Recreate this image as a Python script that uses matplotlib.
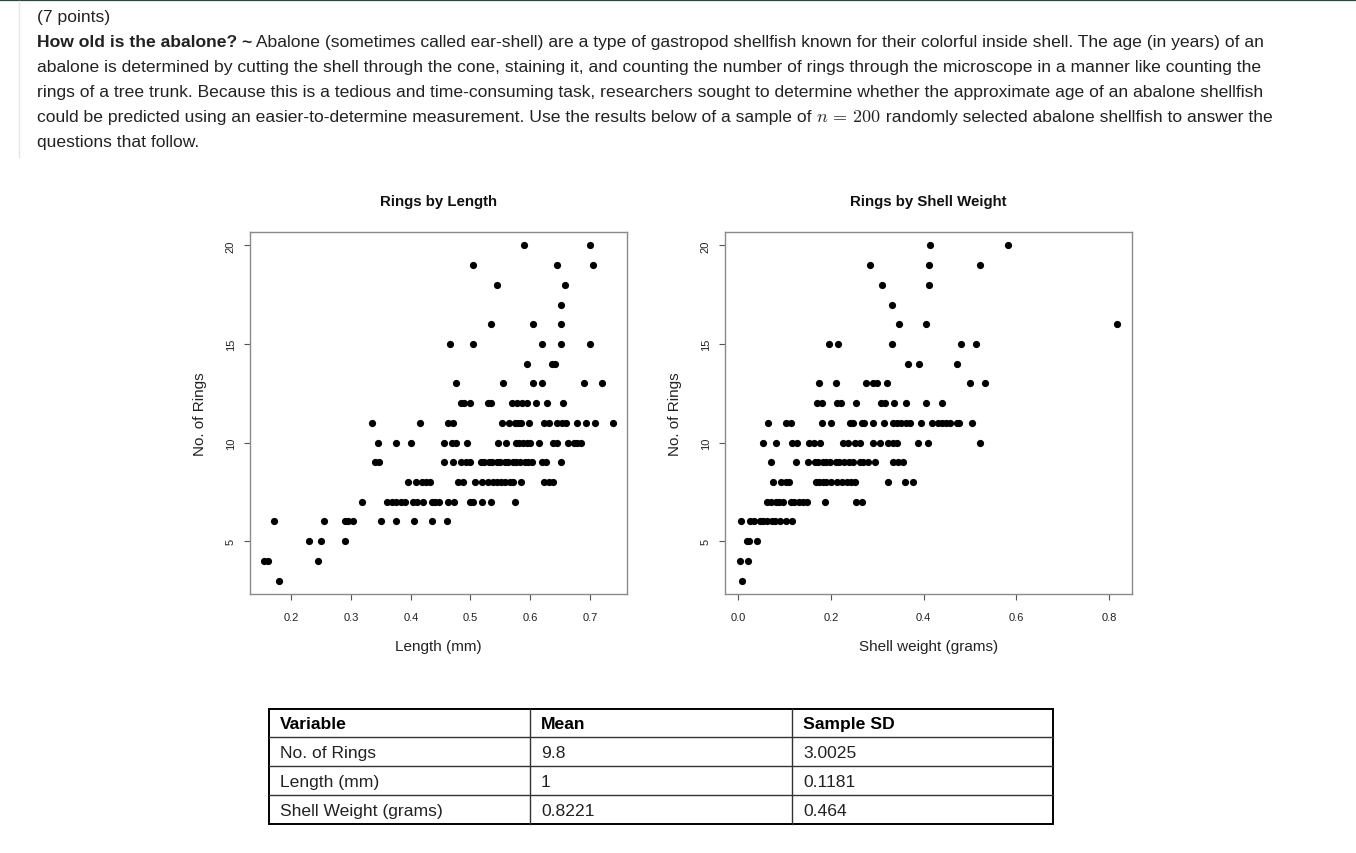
import matplotlib
matplotlib.use("Agg")
import matplotlib.pyplot as plt
from matplotlib.patches import Rectangle

plt.rcParams['font.family'] = ['Liberation Sans', 'DejaVu Sans']
plt.rcParams['mathtext.fontset'] = 'cm'

# ---------------- data ----------------
length_mm = [
    0.590, 0.700,
    0.504, 0.645, 0.705,
    0.545, 0.659,
    0.651,
    0.535, 0.605, 0.651,
    0.465, 0.504, 0.620, 0.651, 0.700,
    0.595, 0.636, 0.641,
    0.475, 0.555, 0.605, 0.620, 0.690, 0.720,
    0.484, 0.490, 0.500, 0.529, 0.535, 0.570, 0.578, 0.586, 0.595, 0.610, 0.629, 0.655,
    0.335, 0.415, 0.463, 0.471, 0.553, 0.564, 0.574, 0.579, 0.585, 0.599, 0.624, 0.631,
    0.645, 0.653, 0.660, 0.679, 0.694, 0.709, 0.739,
    0.345, 0.375, 0.400, 0.455, 0.469, 0.475, 0.495, 0.547, 0.560, 0.577, 0.582, 0.588,
    0.595, 0.600, 0.615, 0.638, 0.645, 0.664, 0.673, 0.679, 0.686,
    0.340, 0.346, 0.455, 0.471, 0.485, 0.493, 0.500, 0.517, 0.523, 0.531, 0.536, 0.544,
    0.550, 0.558, 0.563, 0.571, 0.577, 0.583, 0.591, 0.596, 0.604, 0.620, 0.627, 0.651,
    0.395, 0.409, 0.419, 0.426, 0.433, 0.479, 0.487, 0.508, 0.519, 0.529, 0.538, 0.545,
    0.551, 0.558, 0.567, 0.572, 0.585, 0.624, 0.631, 0.638,
    0.319, 0.360, 0.369, 0.375, 0.383, 0.390, 0.404, 0.411, 0.421, 0.435, 0.441, 0.447,
    0.463, 0.473, 0.499, 0.505, 0.519, 0.535, 0.575,
    0.170, 0.255, 0.289, 0.295, 0.304, 0.350, 0.375, 0.405, 0.435, 0.460,
    0.230, 0.250, 0.289,
    0.154, 0.161, 0.245,
    0.180,
]
rings_vs_length = [
    20, 20,
    19, 19, 19,
    18, 18,
    17,
    16, 16, 16,
    15, 15, 15, 15, 15,
    14, 14, 14,
    13, 13, 13, 13, 13, 13,
    12, 12, 12, 12, 12, 12, 12, 12, 12, 12, 12, 12,
    11, 11, 11, 11, 11, 11, 11, 11, 11, 11, 11, 11,
    11, 11, 11, 11, 11, 11, 11,
    10, 10, 10, 10, 10, 10, 10, 10, 10, 10, 10, 10,
    10, 10, 10, 10, 10, 10, 10, 10, 10,
    9, 9, 9, 9, 9, 9, 9, 9, 9, 9, 9, 9,
    9, 9, 9, 9, 9, 9, 9, 9, 9, 9, 9, 9,
    8, 8, 8, 8, 8, 8, 8, 8, 8, 8, 8, 8,
    8, 8, 8, 8, 8, 8, 8, 8,
    7, 7, 7, 7, 7, 7, 7, 7, 7, 7, 7, 7,
    7, 7, 7, 7, 7, 7, 7,
    6, 6, 6, 6, 6, 6, 6, 6, 6, 6,
    5, 5, 5,
    4, 4, 4,
    3,
]

shell_weight = [
    0.413, 0.581,
    0.285, 0.411, 0.521,
    0.310, 0.411,
    0.331,
    0.346, 0.405, 0.817,
    0.195, 0.215, 0.331, 0.480, 0.514,
    0.366, 0.391, 0.471,
    0.175, 0.210, 0.275, 0.291, 0.300, 0.320, 0.499, 0.532,
    0.169, 0.180, 0.214, 0.221, 0.255, 0.309, 0.316, 0.336, 0.361, 0.405, 0.440,
    0.065, 0.104, 0.113, 0.180, 0.200, 0.241, 0.248, 0.266, 0.271, 0.291, 0.315, 0.334,
    0.343, 0.352, 0.363, 0.370, 0.395, 0.417, 0.431, 0.440, 0.449, 0.456, 0.471, 0.476, 0.505,
    0.053, 0.081, 0.115, 0.126, 0.153, 0.164, 0.176, 0.225, 0.237, 0.251, 0.262, 0.291,
    0.305, 0.323, 0.333, 0.343, 0.387, 0.409, 0.521,
    0.070, 0.125, 0.150, 0.165, 0.172, 0.183, 0.190, 0.199, 0.211, 0.218, 0.229, 0.240,
    0.247, 0.262, 0.270, 0.281, 0.295, 0.334, 0.345, 0.356,
    0.074, 0.092, 0.102, 0.109, 0.167, 0.175, 0.183, 0.190, 0.200, 0.214, 0.223, 0.234,
    0.244, 0.251, 0.323, 0.359, 0.376,
    0.063, 0.071, 0.081, 0.089, 0.096, 0.113, 0.121, 0.132, 0.140, 0.148, 0.187, 0.255, 0.266,
    0.007, 0.026, 0.035, 0.046, 0.053, 0.062, 0.073, 0.080, 0.091, 0.104, 0.115,
    0.019, 0.024, 0.040,
    0.004, 0.022,
    0.009,
]
rings_vs_weight = [
    20, 20,
    19, 19, 19,
    18, 18,
    17,
    16, 16, 16,
    15, 15, 15, 15, 15,
    14, 14, 14,
    13, 13, 13, 13, 13, 13, 13, 13,
    12, 12, 12, 12, 12, 12, 12, 12, 12, 12, 12,
    11, 11, 11, 11, 11, 11, 11, 11, 11, 11, 11, 11,
    11, 11, 11, 11, 11, 11, 11, 11, 11, 11, 11, 11, 11,
    10, 10, 10, 10, 10, 10, 10, 10, 10, 10, 10, 10,
    10, 10, 10, 10, 10, 10, 10,
    9, 9, 9, 9, 9, 9, 9, 9, 9, 9, 9, 9,
    9, 9, 9, 9, 9, 9, 9, 9,
    8, 8, 8, 8, 8, 8, 8, 8, 8, 8, 8, 8,
    8, 8, 8, 8, 8,
    7, 7, 7, 7, 7, 7, 7, 7, 7, 7, 7, 7, 7,
    6, 6, 6, 6, 6, 6, 6, 6, 6, 6, 6,
    5, 5, 5,
    4, 4,
    3,
]

ring_ticks = [5, 10, 15, 20]
length_ticks = [0.2, 0.3, 0.4, 0.5, 0.6, 0.7]
weight_ticks = [0.0, 0.2, 0.4, 0.6, 0.8]

table_header = ["Variable", "Mean", "Sample SD"]
table_variables = ["No. of Rings", "Length (mm)", "Shell Weight (grams)"]
table_means = ["9.8", "1", "0.8221"]
table_sds = ["3.0025", "0.1181", "0.464"]

# ---------------- figure ----------------
W, H = 1356, 854
fig = plt.figure(figsize=(W / 100, H / 100), dpi=100)
fig.patch.set_facecolor('white')

bg = fig.add_axes([0, 0, 1, 1], zorder=0)
bg.set_xlim(0, W)
bg.set_ylim(H, 0)
bg.axis('off')

TXT = '#222222'
FS = 12.6

# top border and faint left rule
bg.plot([0, W], [0.8, 0.8], color='#24493d', lw=1.6, solid_capstyle='butt')
bg.plot([19, 19], [2, 158], color='#e6e6e6', lw=1)

renderer = fig.canvas.get_renderer()


def put_runs(x, y, runs):
    """Draw consecutive text runs on a baseline starting at pixel x."""
    for s, kw in runs:
        t = bg.text(x, y, s, fontsize=kw.pop('fontsize', FS), color=TXT,
                    va='baseline', ha='left', **kw)
        ext = t.get_window_extent(renderer)
        x += ext.width


para_lines = [
    [("(7 points)", {})],
    [("How old is the abalone? ~", {'fontweight': 'bold'}),
     (" Abalone (sometimes called ear-shell) are a type of gastropod shellfish known for their colorful inside shell. The age (in years) of an", {})],
    [("abalone is determined by cutting the shell through the cone, staining it, and counting the number of rings through the microscope in a manner like counting the", {})],
    [("rings of a tree trunk. Because this is a tedious and time-consuming task, researchers sought to determine whether the approximate age of an abalone shellfish", {})],
    [("could be predicted using an easier-to-determine measurement. Use the results below of a sample of ", {}),
     (r"$n\,=\,200$", {'fontsize': 13}),
     (" randomly selected abalone shellfish to answer the", {})],
    [("questions that follow.", {})],
]
baselines = [22, 47, 72, 97, 122, 147]
for runs, yb in zip(para_lines, baselines):
    put_runs(37, yb, runs)


# ---------------- scatter panels ----------------
def panel(rect, xs, ys, xticks, title, xlabel):
    ax = fig.add_axes(rect, zorder=2)
    ax.scatter(xs, ys, s=27, color='black', linewidths=0, zorder=3)
    xlo, xhi = min(xs), max(xs)
    ylo, yhi = min(ys), max(ys)
    px = 0.04 * (xhi - xlo)
    py = 0.04 * (yhi - ylo)
    ax.set_xlim(xlo - px, xhi + px)
    ax.set_ylim(ylo - py, yhi + py)
    ax.set_xticks(xticks)
    ax.set_xticklabels([f"{v:.1f}" for v in xticks])
    ax.set_yticks(ring_ticks)
    ax.set_yticklabels([str(v) for v in ring_ticks], rotation=90, va='center')
    for sp in ax.spines.values():
        sp.set_color('#8a8a8a')
        sp.set_linewidth(1.0)
    ax.tick_params(axis='both', direction='out', length=4.3, width=0.8,
                   color='#555555', labelsize=8, labelcolor='#222222')
    ax.tick_params(axis='x', pad=9)
    ax.tick_params(axis='y', pad=6)
    ax.set_title(title, fontsize=10.8, fontweight='bold', color='#111111',
                 y=1 + 31 / (rect[3] * H), va='center', pad=0)
    ax.set_xlabel(xlabel, fontsize=11, color='#222222', va='center')
    ax.xaxis.set_label_coords(0.5, -52 / (rect[3] * H))
    ax.set_ylabel("No. of Rings", fontsize=11, color='#222222', va='center', ha='center')
    ax.yaxis.set_label_coords(-50 / (rect[2] * W), 0.5)
    return ax


panel([250 / W, 1 - 595 / H, 377 / W, 362 / H], length_mm, rings_vs_length,
      length_ticks, "Rings by Length", "Length (mm)")
panel([725 / W, 1 - 595 / H, 407 / W, 362 / H], shell_weight, rings_vs_weight,
      weight_ticks, "Rings by Shell Weight", "Shell weight (grams)")

# ---------------- table ----------------
col_edges = [269, 530, 792, 1053]
row_edges = [710, 738, 767, 796, 825]
for xe in col_edges[1:-1]:
    bg.plot([xe, xe], [row_edges[0], row_edges[-1]], color='#333333', lw=1.0)
for ye in row_edges[1:-1]:
    bg.plot([col_edges[0], col_edges[-1]], [ye, ye], color='#333333', lw=1.0)
bg.add_patch(Rectangle((col_edges[0], row_edges[0]), col_edges[-1] - col_edges[0],
                       row_edges[-1] - row_edges[0], fill=False, edgecolor='black', lw=1.4))

rows = [table_header] + [list(r) for r in zip(table_variables, table_means, table_sds)]
for i, row in enumerate(rows):
    yc = (row_edges[i] + row_edges[i + 1]) / 2
    for j, cell in enumerate(row):
        bg.text(col_edges[j] + 11, yc + 5.5, cell, fontsize=FS, color='black' if i == 0 else TXT,
                fontweight='bold' if i == 0 else 'normal', va='baseline', ha='left')

fig.savefig('out.png', dpi=100, facecolor='white')
